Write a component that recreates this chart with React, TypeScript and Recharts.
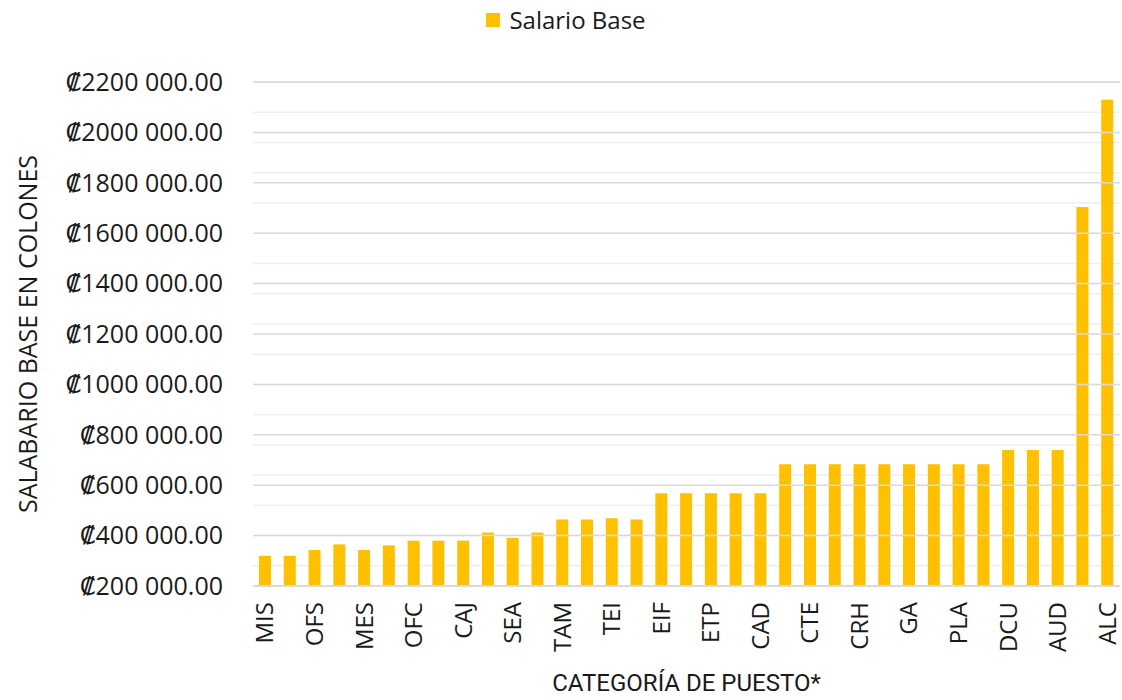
import { BarChart, Bar, XAxis, YAxis, CartesianGrid, Legend, ReferenceLine } from "recharts";

const categories = [
  "MIS", "PEM", "OFS", "CHO", "MES", "NOT", "OFC", "BOD", "CAJ", "INS",
  "SEA", "TOP", "TAM", "PRO", "TEI", "ASI", "EIF", "ETM", "ETP", "ECA",
  "CAD", "ASP", "CTE", "CPE", "CRH", "CFI", "GA", "CIT", "PLA", "PRE",
  "DCU", "PRV", "AUD", "VAL", "ALC",
];

const salarioBase = [
  320000, 320000, 343000, 365000, 343000, 361000, 380000, 380000, 380000, 412000,
  391000, 412000, 464000, 464000, 469000, 464000, 568000, 568000, 568000, 568000,
  568000, 683000, 683000, 683000, 683000, 683000, 683000, 683000, 683000, 683000,
  740000, 740000, 740000, 1704000, 2130000,
];

const majorTicks = [200000, 400000, 600000, 800000, 1000000, 1200000, 1400000, 1600000, 1800000, 2000000, 2200000];

// minor grid every 40 000 between the major lines
const minorTicks: number[] = [];
for (let v = 200000; v <= 2200000; v += 40000) minorTicks.push(v);

const data = categories.map((c, i) => ({ puesto: c, salario: salarioBase[i] }));

const font = "'Open Sans', 'DejaVu Sans', sans-serif";

function fmtColones(v: number) {
  const miles = Math.floor(v / 1000);
  return "\u20A1" + miles + " 000.00";
}

function LegendContent() {
  return (
    <div style={{ display: "flex", justifyContent: "center", alignItems: "center", fontFamily: font, fontSize: 24, color: "#1a1a1a", paddingLeft: 10 }}>
      <span style={{ width: 14, height: 14, background: "#FFC000", display: "inline-block", marginRight: 9 }} />
      Salario Base
    </div>
  );
}

export default function App() {
  return (
    <div style={{ position: "absolute", left: 0, top: 0, background: "#fff" }}>
      <BarChart width={1122} height={700} data={data} margin={{ top: 52, right: 2, bottom: 0, left: 0 }}>
        <CartesianGrid vertical={false} horizontalValues={minorTicks} stroke="#efefef" strokeWidth={1.5} />
        {majorTicks.map((t) => (
          <ReferenceLine key={t} y={t} stroke="#d9d9d9" strokeWidth={1.5} />
        ))}
        <Legend
          verticalAlign="top"
          content={<LegendContent />}
          wrapperStyle={{ position: "absolute", top: 3, left: 0, width: 1122, height: 30 }}
        />
        <XAxis
          dataKey="puesto"
          interval={1}
          axisLine={{ stroke: "#d9d9d9", strokeWidth: 1.5 }}
          tickLine={false}
          angle={-90}
          textAnchor="end"
          dy={-8}
          dx={-9}
          tickMargin={18}
          height={114}
          tick={{ fontFamily: font, fontSize: 24, fill: "#1a1a1a" }}
          label={{ value: "CATEGORÍA DE PUESTO*", position: "insideBottom", offset: 0, dy: -9, style: { fontFamily: "'Liberation Sans Narrow', 'Roboto', sans-serif", fontSize: 24, fill: "#1a1a1a" } }}
        />
        <YAxis
          domain={[200000, 2200000]}
          ticks={majorTicks}
          allowDataOverflow
          width={253}
          axisLine={false}
          tickLine={false}
          tickSize={0}
          tickMargin={30}
          tickFormatter={fmtColones}
          tick={{ fontFamily: font, fontSize: 25, fill: "#1a1a1a" }}
          label={{ value: "SALABARIO BASE EN COLONES", angle: -90, position: "insideLeft", offset: 28, style: { textAnchor: "middle", fontFamily: font, fontSize: 25, fill: "#1a1a1a" } }}
        />
        <Bar dataKey="salario" fill="#FFC000" barSize={12} isAnimationActive={false} />
      </BarChart>
    </div>
  );
}
